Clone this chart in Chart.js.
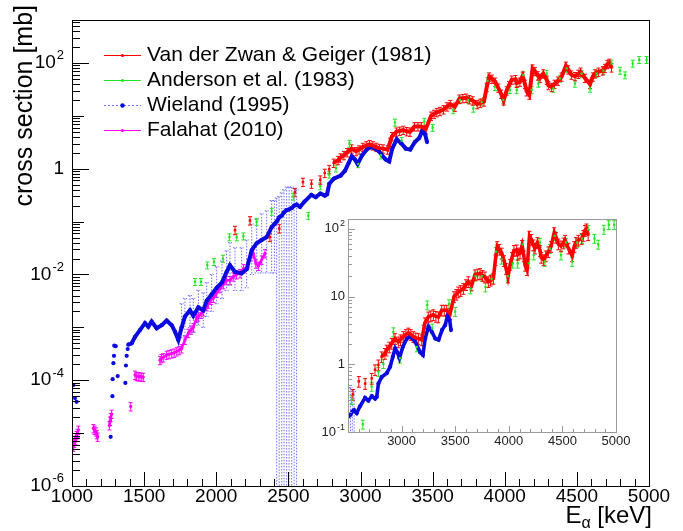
<!DOCTYPE html>
<html>
<head>
<meta charset="utf-8">
<script src="https://cdn.jsdelivr.net/npm/chart.js@4.4.0/dist/chart.umd.min.js"></script>
<style>
  body { margin: 0; background: #fff; }
  #wrap { position: relative; width: 683px; height: 531px; }
  #main { position: absolute; left: 0; top: 0; }
  #inset { position: absolute; left: 300px; top: 205px; }
</style>
</head>
<body>
<div id="wrap">
  <canvas id="main" width="683" height="531"></canvas>
  <canvas id="inset" width="340" height="250"></canvas>
</div>
<script>
// ---- Data (E in keV, cross section in mb) ----
const seriesNames = ['Van der Zwan & Geiger (1981)', 'Anderson et al. (1983)', 'Wieland (1995)', 'Falahat (2010)'];

// Van der Zwan & Geiger (1981)
const zwanE = [2130,2234,2372,2437,2546,2601,2660,2721,2752,2783,2814,2845,2861,2885,2908,2939,2969,2990,3016,3040,
  3063,3086,3109,3132,3156,3188,3205,3218,3249,3272,3296,3320,3343,3374,3398,3421,3452,3489,3510,3529,
  3551,3576,3600,3622,3654,3685,3710,3732,3755,3778,3809,3830,3856,3875,3892,3912,3934,3955,3975,3992,
  4013,4030,4048,4074,4083,4105,4124,4140,4152,4170,4193,4210,4229,4244,4267,4291,4302,4325,4345,4369,
  4394,4424,4440,4462,4487,4510,4525,4556,4591,4610,4626,4649,4680,4695,4711,4725,4740];
const zwanY = [0.069,0.105,0.051,0.074,0.36,0.56,0.52,0.62,0.83,0.98,1.29,1.45,1.62,1.8,2.04,2.4,2.14,2.3,2.57,2.75,
  2.9,2.75,2.57,2.45,2.4,2.3,3.2,4.1,5.0,5.2,5.4,5.1,5.0,6.3,6.3,6.3,5.6,10,10.8,11.7,
  12.3,13.2,15,16.6,14.8,21,21.5,21.9,20.5,19.5,16.6,17.5,18.6,35,55,50,44,34,26,19.5,
  30,38,48,49,42,44,57,40,29,25,78,70,58,52,63,48,38,35,40,46,
  55,88,75,60,56,62,68,52,40,55,63,68,72,80,95,100,82];
const zwanErr = 0.18;

// Anderson et al. (1983)
const andE = [1853,1894,1938,1984,2047,2091,2142,2188,2280,2384,2534,2638,2721,2783,2830,2923,2985,3141,3239,3285,
  3442,3500,3643,3690,3747,3782,3840,3880,3932,3990,4036,4083,4129,4187,4233,4291,4337,4383,4429,4487,
  4533,4591,4637,4683,4741,4799,4834,4887,4932,4983];
const andY = [0.0073,0.0073,0.015,0.0174,0.02,0.051,0.051,0.053,0.1,0.155,0.3,0.13,0.47,0.78,1.02,3.0,1.23,1.8,7.5,3.4,
  7.8,6.0,12.9,20,20,13.8,18.2,46,35.5,20,31,31,59,31,41,63,33,51,79,41,
  63,33,63,72,98,72,59,98,115,115];
const andErr = 0.15;

// Wieland (1995)
const wieE = [1009,1021,1032,1268,1280,1282,1287,1291,1293,1303,1317,1370,1374,1379,1386,
  1390,1414,1437,1471,1506,1529,1552,1587,1622,1656,1691,1714,1737,
  1760,1783,1818,1841,1876,1910,1934,1968,2003,2040,2072,2095,2130,2176,2211,2246,2280,2315,2350,2384,
  2403,2419,2436,2454,2470,2488,2505,2523,2540,2557,2581,2612,2659,2690,2722,2753,2768,2784,2815,2862,
  2893,2918,2940,2961,2980,3011,3049,3080,3127,3174,3199,3220,3251,3283,3314,3345,3377,3407,3429,3448,3461];
const wieY = [8.1e-5,4.6e-5,3.9e-5,8.5e-6,5.0e-5,1.05e-4,2.1e-4,2.9e-4,4.5e-4,4.4e-4,1.2e-4,8.9e-5,1.9e-4,2.9e-4,3.9e-4,
  4.7e-4,5.0e-4,6.6e-4,8.9e-4,1.2e-3,1.03e-3,1.29e-3,9.6e-4,1.1e-3,1.35e-3,1.1e-3,8.3e-4,5.8e-4,
  1.0e-3,1.6e-3,2.1e-3,1.65e-3,2.4e-3,2.1e-3,3.2e-3,4.2e-3,5.6e-3,7.1e-3,1.12e-2,1.5e-2,1.12e-2,1.05e-2,1.26e-2,2.9e-2,3.9e-2,4.5e-2,5.1e-2,7.9e-2,
  0.09,0.10,0.12,0.13,0.15,0.166,0.17,0.18,0.20,0.21,0.19,0.24,0.32,0.29,0.34,0.31,0.33,0.52,0.65,0.74,
  0.92,1.29,1.72,1.5,1.23,1.8,2.4,2.6,2.15,1.5,1.37,2.4,3.6,3.0,2.4,2.3,3.2,3.8,5.3,4.5,3.2];
// Wieland error band (upper / lower edge, 0 = runs off the bottom)
const wieErrE  = [1760,1783,1818,1841,1876,1910,1934,1968,2003,2040,2072,2095,2130,2176,2211,2246,2280,2315,2350,2384,
  2403,2419,2436,2454,2470,2488,2505,2523,2540,2557];
const wieErrHi = [2.8e-3,3.5e-3,4e-3,3.5e-3,5e-3,4.5e-3,7e-3,1e-2,1.4e-2,1.8e-2,2.8e-2,4e-2,3.2e-2,3.2e-2,4.5e-2,9e-2,0.11,0.14,0.16,0.25,
  0.25,0.28,0.3,0.35,0.4,0.45,0.45,0.45,0.42,0.4];
const wieErrLo = [6.3e-4,7e-4,1e-3,8e-4,1.1e-3,1e-3,1.6e-3,2e-3,2.8e-3,3.5e-3,5e-3,6.3e-3,5e-3,5e-3,5.6e-3,1e-2,1.07e-2,1.07e-2,1.07e-2,1.07e-2,
  1.07e-2,0,0,0,0,0,0,0,0,0];

// Falahat (2010)
const falE = [1009,1015,1021,1026,1032,1038,1044,1148,1157,1166,1172,1178,1259,1264,1268,1275,1407,
  1437,1448,1460,1471,1483,1494,1610,1620,1633,1656,1673,1691,1708,1726,1743,1760,
  1783,1806,1825,1841,1864,1876,1895,1910,1934,1945,1963,1980,2003,2026,2049,2072,2095,2118,2140,2165,
  2190,2222,2240,2257,2275,2292,2315,2338];
const falY = [5.5e-6,6.5e-6,7.4e-6,8.3e-6,9.1e-6,1.0e-5,1.15e-5,1.23e-5,1.15e-5,1.07e-5,9.5e-6,8.5e-6,1.4e-5,1.7e-5,2.0e-5,2.3e-5,3.2e-5,
  1.26e-4,1.2e-4,1.18e-4,1.17e-4,1.15e-4,1.15e-4,2.4e-4,2.6e-4,2.7e-4,3.0e-4,3.1e-4,3.2e-4,3.3e-4,3.5e-4,3.7e-4,4.0e-4,
  5.8e-4,7.8e-4,9e-4,1.0e-3,1.5e-3,1.6e-3,1.8e-3,2.0e-3,2.5e-3,2.8e-3,3.3e-3,3.6e-3,4.5e-3,5.5e-3,6.5e-3,7.8e-3,7.8e-3,9.1e-3,1.0e-2,1.05e-2,
  1.3e-2,1.62e-2,2.2e-2,2.5e-2,1.6e-2,1.45e-2,1.9e-2,2.5e-2];
const falErr = 0.18;

// Axis tick labels
const mainXTicks = [1000,1500,2000,2500,3000,3500,4000,4500,5000];
const mainYTicks = [1e-6,1e-4,1e-2,1,1e2];
const mainYLabels = ['10^-6','10^-4','10^-2','1','10^2'];
const insetXTicks = [3000,3500,4000,4500,5000];
const insetYTicks = [0.1,1,10,100];
const insetYLabels = ['10^-1','1','10','10^2'];

// ---- styling ----
const FONT = '"Liberation Sans", Arial, Helvetica, sans-serif';
const RED = '#ff0000', GREEN = '#1fe61f', BLUE = '#0a0ae0', MAGENTA = '#ff00ff';
const BAND = 'rgba(70,70,255,0.8)';
const NONE = 'rgba(0,0,0,0)';

const zip = (xs, ys) => xs.map((x, i) => ({ x: x, y: ys[i] }));
const relBars = (xs, ys, r) => xs.map((x, i) => ({ x: x, hi: ys[i] * (1 + r), lo: ys[i] * (1 - r) }));

// only join neighbouring points of a dense run
function gapSeg(color, maxGap, fromE) {
  return {
    borderColor: c => (c.p1.parsed.x - c.p0.parsed.x <= maxGap && c.p0.parsed.x >= fromE) ? color : NONE
  };
}

function makeDatasets(scale) {
  return [
    {
      label: seriesNames[0], data: zip(zwanE, zwanY), order: 1,
      showLine: true, borderColor: RED, borderWidth: 4 * scale, segment: gapSeg(RED, 40, 2800),
      pointRadius: 1.8, pointStyle: 'rect', pointBackgroundColor: RED, pointBorderWidth: 0,
      errBars: relBars(zwanE, zwanY, zwanErr), errColor: RED, errCap: 2
    },
    {
      label: seriesNames[1], data: zip(andE, andY), order: 0,
      showLine: false, borderColor: GREEN,
      pointRadius: 1.6, pointStyle: 'rect', pointBackgroundColor: GREEN, pointBorderWidth: 0,
      errBars: relBars(andE, andY, andErr), errColor: GREEN, errCap: 2
    },
    {
      label: seriesNames[2], data: zip(wieE, wieY), order: 2,
      showLine: true, borderColor: BLUE, borderWidth: 4 * scale, segment: gapSeg(BLUE, 50, 1388),
      pointRadius: 2.1, pointBackgroundColor: BLUE, pointBorderWidth: 0,
      errBars: wieErrE.map((x, i) => ({ x: x, hi: wieErrHi[i], lo: wieErrLo[i] })),
      errColor: BAND, errDash: [1.5, 1.5], errCap: 2
    },
    {
      label: seriesNames[3], data: zip(falE, falY), order: 3,
      showLine: true, borderColor: MAGENTA, borderWidth: 2.5, segment: gapSeg(MAGENTA, 25, 1000),
      pointRadius: 1.6, pointBackgroundColor: MAGENTA, pointBorderWidth: 0,
      errBars: relBars(falE, falY, falErr), errColor: MAGENTA, errCap: 2
    }
  ];
}

// error bars, drawn under the markers
const errorBars = {
  id: 'errorBars',
  beforeDatasetsDraw(chart) {
    const { ctx, chartArea: a, scales: { x, y } } = chart;
    ctx.save();
    ctx.beginPath();
    ctx.rect(a.left, a.top, a.right - a.left, a.bottom - a.top);
    ctx.clip();
    chart.data.datasets.slice().reverse().forEach(ds => {
      if (!ds.errBars) return;
      ctx.strokeStyle = ds.errColor;
      ctx.lineWidth = 1;
      ctx.setLineDash(ds.errDash || []);
      ds.errBars.forEach(b => {
        const px = x.getPixelForValue(b.x);
        const yh = y.getPixelForValue(b.hi);
        const yl = b.lo > 0 ? y.getPixelForValue(b.lo) : a.bottom;
        ctx.beginPath();
        ctx.moveTo(px, yh); ctx.lineTo(px, yl);
        ctx.moveTo(px - ds.errCap, yh); ctx.lineTo(px + ds.errCap, yh);
        if (b.lo > 0) { ctx.moveTo(px - ds.errCap, yl); ctx.lineTo(px + ds.errCap, yl); }
        ctx.stroke();
      });
    });
    ctx.restore();
  }
};

function drawPowLabel(ctx, txt, x, y, size, align) {
  const parts = txt.split('^');
  const base = parts[0], exp = parts[1];
  const big = size + 'px ' + FONT, small = Math.round(size * 0.68) + 'px ' + FONT;
  ctx.font = big;
  const bw = ctx.measureText(base).width;
  let ew = 0;
  if (exp) { ctx.font = small; ew = ctx.measureText(exp).width + 1; }
  const left = align === 'right' ? x - bw - ew : (align === 'center' ? x - (bw + ew) / 2 : x);
  ctx.textAlign = 'left';
  ctx.textBaseline = 'middle';
  ctx.font = big;
  ctx.fillText(base, left, y);
  if (exp) { ctx.font = small; ctx.fillText(exp, left + bw + 1, y - size * 0.38); }
}

// ROOT-like frame, inward ticks and labels
function rootAxes(o) {
  return {
    id: 'rootAxes',
    afterDraw(chart) {
      const { ctx, chartArea: a, scales: { x, y } } = chart;
      ctx.save();
      ctx.strokeStyle = o.frame;
      ctx.lineWidth = 1;
      ctx.strokeRect(Math.round(a.left) + 0.5, Math.round(a.top) + 0.5,
        Math.round(a.right - a.left), Math.round(a.bottom - a.top));

      ctx.strokeStyle = o.tick;
      ctx.beginPath();
      for (let v = x.min; v <= x.max + 1e-6; v += o.xMinor) {
        const px = Math.round(x.getPixelForValue(v)) + 0.5;
        const len = (Math.round(v) % o.xMajor === 0) ? o.xMajorLen : o.xMinorLen;
        ctx.moveTo(px, a.bottom); ctx.lineTo(px, a.bottom - len);
      }
      const k0 = Math.floor(Math.log10(y.min)), k1 = Math.ceil(Math.log10(y.max));
      for (let k = k0; k <= k1; k++) {
        for (let m = 1; m <= 9; m++) {
          const v = m * Math.pow(10, k);
          if (v < y.min * 0.999 || v > y.max * 1.001) continue;
          const py = Math.round(y.getPixelForValue(v)) + 0.5;
          let len = o.yMinorLen;
          if (m === 1) {
            const labelled = o.yTicks.some(t => Math.abs(Math.log10(t) - k) < 1e-6);
            len = labelled ? o.yMajorLen : o.yMidLen;
          }
          ctx.moveTo(a.left, py); ctx.lineTo(a.left + len, py);
        }
      }
      ctx.stroke();

      ctx.fillStyle = o.text;
      o.xTicks.forEach(v => {
        ctx.font = o.xFont + 'px ' + FONT;
        ctx.textAlign = 'center';
        ctx.textBaseline = 'middle';
        ctx.fillText(String(v), x.getPixelForValue(v), a.bottom + o.xLabelOff);
      });
      o.yTicks.forEach((v, i) => {
        drawPowLabel(ctx, o.yLabels[i], a.left - o.yLabelOff, y.getPixelForValue(v), o.yFont, 'right');
      });
      if (o.titles) o.titles(ctx, a);
      ctx.restore();
    }
  };
}

// legend in the upper left of the main frame
const legendRows = [55, 80, 105, 130];
const rootLegend = {
  id: 'rootLegend',
  afterDraw(chart) {
    const ctx = chart.ctx;
    ctx.save();
    chart.data.datasets.forEach((ds, i) => {
      const yy = legendRows[i] + 0.5;
      const col = ds.pointBackgroundColor;
      ctx.strokeStyle = i === 2 ? BAND : col;
      ctx.lineWidth = 1;
      ctx.setLineDash(i === 2 ? [2, 2] : []);
      ctx.beginPath(); ctx.moveTo(104, yy); ctx.lineTo(141, yy); ctx.stroke();
      ctx.setLineDash([]);
      ctx.fillStyle = col;
      ctx.beginPath(); ctx.arc(122.5, yy, i === 2 ? 2.2 : 1.6, 0, Math.PI * 2); ctx.fill();
      ctx.fillStyle = '#000';
      ctx.font = '21px ' + FONT;
      ctx.textAlign = 'left';
      ctx.textBaseline = 'middle';
      ctx.fillText(ds.label, 147, yy);
    });
    ctx.restore();
  }
};

function mainTitles(ctx, a) {
  // y title, aligned to the top of the axis
  ctx.save();
  ctx.translate(25, 5);
  ctx.rotate(-Math.PI / 2);
  ctx.font = '25px ' + FONT;
  ctx.textAlign = 'right';
  ctx.textBaseline = 'middle';
  ctx.fillStyle = '#000';
  ctx.fillText('cross section [mb]', 0, 0);
  ctx.restore();
  // x title E_alpha [keV], aligned to the right end
  ctx.save();
  ctx.fillStyle = '#000';
  ctx.textBaseline = 'alphabetic';
  ctx.textAlign = 'left';
  ctx.font = '24px ' + FONT;
  const tail = ' [keV]';
  const wt = ctx.measureText(tail).width;
  const we = ctx.measureText('E').width;
  ctx.font = '16px ' + FONT;
  const wa = ctx.measureText('\u03b1').width;
  const right = 652, base = 523;
  let xx = right - wt - wa - we;
  ctx.font = '24px ' + FONT;
  ctx.fillText('E', xx, base);
  ctx.font = '16px ' + FONT;
  ctx.fillText('\u03b1', xx + we, base + 5);
  ctx.font = '24px ' + FONT;
  ctx.fillText(tail, xx + we + wa, base);
  ctx.restore();
}

function baseOptions(xMin, xMax, yMin, yMax, yWidth, xHeight, pad) {
  return {
    responsive: false,
    animation: false,
    devicePixelRatio: 1,
    events: [],
    layout: { padding: pad },
    plugins: { legend: { display: false }, tooltip: { enabled: false } },
    scales: {
      x: {
        type: 'linear', min: xMin, max: xMax,
        grid: { display: false }, border: { display: false }, ticks: { display: false },
        afterFit(s) { s.height = xHeight; }
      },
      y: {
        type: 'logarithmic', min: yMin, max: yMax,
        grid: { display: false }, border: { display: false }, ticks: { display: false },
        afterFit(s) { s.width = yWidth; }
      }
    }
  };
}

new Chart(document.getElementById('main'), {
  type: 'scatter',
  data: { datasets: makeDatasets(1) },
  options: baseOptions(1000, 5000, 1e-6, 650, 72, 45, { top: 20, right: 34, left: 0, bottom: 0 }),
  plugins: [errorBars, rootAxes({
    frame: '#000', tick: '#000', text: '#000',
    xMinor: 100, xMajor: 500, xMajorLen: 14, xMinorLen: 7,
    yMajorLen: 17, yMidLen: 12, yMinorLen: 8,
    xTicks: mainXTicks, yTicks: mainYTicks, yLabels: mainYLabels,
    xFont: 19, yFont: 19, xLabelOff: 11, yLabelOff: 8,
    titles: mainTitles
  }), rootLegend]
});

new Chart(document.getElementById('inset'), {
  type: 'scatter',
  data: { datasets: makeDatasets(0.9) },
  options: baseOptions(2500, 5000, 0.1, 140, 48, 23, { top: 14, right: 24, left: 0, bottom: 0 }),
  plugins: [errorBars, rootAxes({
    frame: '#9a9a9a', tick: '#9a9a9a', text: '#222',
    xMinor: 100, xMajor: 500, xMajorLen: 6, xMinorLen: 3,
    yMajorLen: 7, yMidLen: 7, yMinorLen: 4,
    xTicks: insetXTicks, yTicks: insetYTicks, yLabels: insetYLabels,
    xFont: 13, yFont: 13, xLabelOff: 9, yLabelOff: 3
  })]
});
</script>
</body>
</html>
